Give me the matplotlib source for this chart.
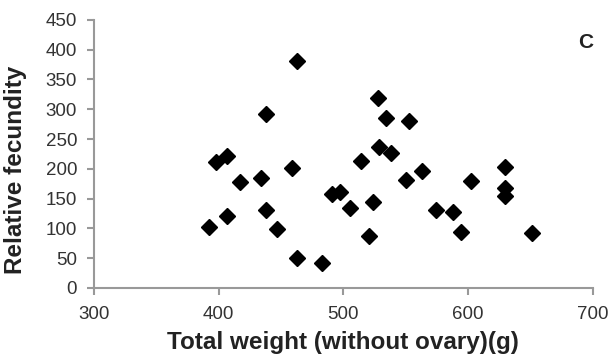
import matplotlib
matplotlib.use('Agg')
import matplotlib.pyplot as plt

# Data
total_weight = [392, 398, 407, 407, 417, 434, 438, 438, 447, 459, 463, 463,
                483, 491, 497, 505, 514, 521, 524, 528, 529, 534, 538, 550,
                553, 563, 574, 588, 594, 602, 630, 630, 630, 651]
fecundity = [102, 211, 221, 121, 178, 185, 292, 131, 99, 202, 381, 50,
             42, 158, 161, 134, 213, 87, 144, 319, 237, 285, 226, 181,
             281, 197, 131, 128, 94, 180, 203, 168, 155, 92]

xticks = [300, 400, 500, 600, 700]
yticks = list(range(0, 451, 50))

plt.rcParams['font.family'] = ['Liberation Sans', 'DejaVu Sans']

fig = plt.figure(figsize=(6.13, 3.55), dpi=100)
ax = fig.add_axes([0.153, 0.189, 0.814, 0.755])

ax.plot(total_weight, fecundity, linestyle='none', marker='D',
        markersize=8.3, color='black')

ax.set_xlim(300, 700)
ax.set_ylim(0, 450)
ax.set_xticks(xticks)
ax.set_yticks(yticks)

for side in ['top', 'right']:
    ax.spines[side].set_visible(False)
for side in ['left', 'bottom']:
    ax.spines[side].set_color('#999999')
    ax.spines[side].set_linewidth(1.5)

ax.tick_params(direction='out', length=5, width=1.5, color='#999999',
               labelsize=13.5, labelcolor='#333333')
ax.tick_params(axis='x', pad=8)
ax.tick_params(axis='y', pad=7)

ax.set_xlabel('Total weight (without ovary)(g)', fontsize=17.5,
              fontweight='bold', color='#222222', labelpad=6)
ax.set_ylabel('Relative fecundity', fontsize=17.5, fontweight='bold',
              color='#222222')
ax.yaxis.set_label_coords(-0.133, 0.44)

ax.text(0.986, 0.914, 'C', transform=ax.transAxes, fontsize=15,
        fontweight='bold', ha='center', va='center', color='#222222')

fig.savefig('out.png', dpi=100)
